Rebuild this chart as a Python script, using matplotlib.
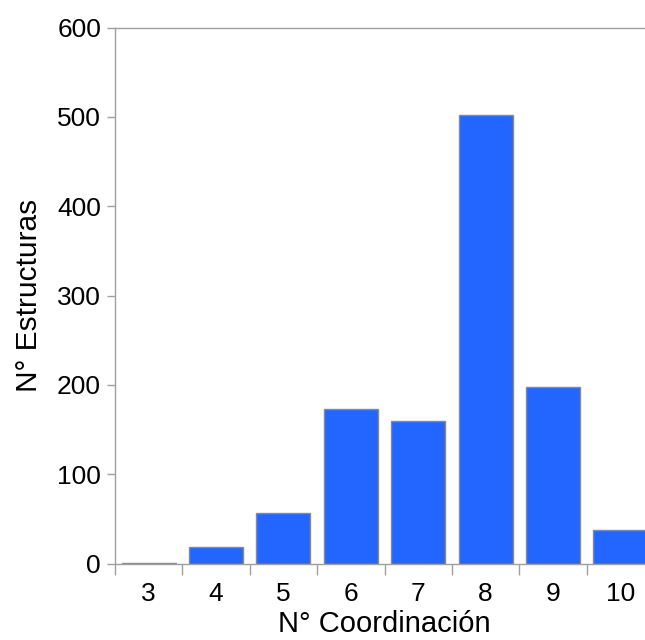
import matplotlib
matplotlib.use("Agg")
import matplotlib.pyplot as plt
import numpy as np

plt.rcParams['font.family'] = ['Liberation Sans', 'DejaVu Sans']

coordination = [3, 4, 5, 6, 7, 8, 9, 10]
structures = [1, 18, 56, 173, 159, 502, 198, 37]
y_ticks = [0, 100, 200, 300, 400, 500, 600]

bar_color = '#2266ff'
edge_color = '#8a8a8a'
spine_color = '#a0a0a0'

fig = plt.figure(figsize=(6.45, 6.4), dpi=100)
ax = fig.add_axes([115 / 645, 1 - 563.5 / 640, (654 - 115) / 645, (563.5 - 27.5) / 640])

ax.bar(coordination, structures, width=0.8, color=bar_color,
       edgecolor=edge_color, linewidth=1.0, zorder=2)

ax.set_xlim(coordination[0] - 0.5, coordination[-1] + 0.5)
ax.set_ylim(y_ticks[0], y_ticks[-1])

# category boundaries carry the tick marks, centres carry the labels
bounds = np.arange(coordination[0] - 0.5, coordination[-1] + 1.0, 1.0)
ax.set_xticks(bounds)
ax.set_xticklabels([])
ax.set_xticks(coordination, minor=True)
ax.set_xticklabels([str(c) for c in coordination], minor=True)
ax.tick_params(axis='x', which='major', length=8, width=1, color=spine_color, direction='out')
ax.tick_params(axis='x', which='minor', length=0, labelsize=19, pad=13)

ax.set_yticks(y_ticks)
ax.set_yticklabels([str(v) for v in y_ticks])
ax.tick_params(axis='y', length=6, width=1, color=spine_color, labelsize=19, pad=4)

for side in ['left', 'top', 'bottom', 'right']:
    ax.spines[side].set_color(spine_color)
    ax.spines[side].set_linewidth(1.0)

ax.set_xlabel('N° Coordinación', fontsize=21, labelpad=3)
ax.set_ylabel('N° Estructuras', fontsize=21.5, labelpad=10)

fig.savefig('out.png', dpi=100)
